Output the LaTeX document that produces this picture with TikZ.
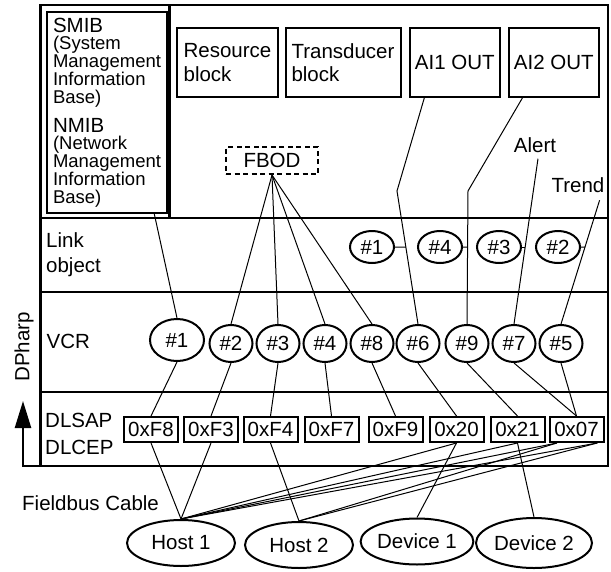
\documentclass[tikz,border=0pt]{standalone}
\usepackage{fontspec}
\setmainfont{Liberation Sans}
\usetikzlibrary{arrows.meta, calc, intersections, shapes.geometric}
\newcommand{\lblfont}{\fontsize{20.5}{23.5}\selectfont}
\newcommand{\notefont}{\fontsize{18.5}{18}\selectfont}
\tikzset{
  outline/.style={line width=2.4pt},
  block/.style={
    draw, rectangle, line width=2pt, inner sep=0pt,
    minimum height=68.7pt, align=left, font=\lblfont
  },
  vcrnode/.style={
    draw, ellipse, line width=2pt, inner sep=0pt,
    minimum width=43pt, minimum height=37pt, font=\lblfont
  },
  linknode/.style={vcrnode, minimum width=44pt, minimum height=32pt},
  addrbox/.style={
    draw, rectangle, line width=2pt, inner sep=0pt,
    minimum width=54pt, minimum height=25pt, font=\lblfont
  },
  station/.style={
    draw, ellipse, line width=2pt, inner sep=0pt,
    minimum width=108pt, minimum height=46pt, font=\lblfont
  },
  rowtext/.style={inner sep=0pt, align=left, font=\lblfont},
  wire/.style={line width=1pt}
}
\begin{document}
\begin{tikzpicture}[x=1pt, y=-1pt]
\useasboundingbox (0,0) rectangle (611,571);

% frame and layer rows
\draw[outline] (40.5,5) rectangle (608,466);
\draw[outline] (40.5,218) -- (608,218);
\draw[outline] (40.5,292) -- (608,292);
\draw[outline] (40.5,392) -- (608,392);
\draw[outline] (169.5,5) -- (169.5,218);

\coordinate (framecorner) at (40.5,466);
\coordinate (arrowtip) at (23,401);
\draw[outline, -{Triangle[length=27pt, width=16pt]}] (framecorner) -- (23,466) -- (arrowtip);
\node[rotate=90, inner sep=0pt, font=\lblfont] (dpharp) at (24,347) {DPharp};

\node[draw, line width=2pt, inner sep=0pt, minimum width=120pt, minimum height=200.5pt,
      align=left, font=\notefont] (smib) at (107,112.3)
  {{\lblfont SMIB}\\[-1pt] (System\\ Management\\ Information\\ Base)\\[11pt]
   {\lblfont NMIB}\\[-1pt] (Network\\ Management\\ Information\\ Base)};

\node[block, minimum width=101pt] (resource) at (227.5,62.7) {Resource\\block};
\node[block, minimum width=115pt] (transducer) at (343,62.7) {Transducer\\block};
\node[block, minimum width=90.5pt] (ai1) at (454.8,62.7) {AI1 OUT};
\node[block, minimum width=90.5pt] (ai2) at (553.8,62.7) {AI2 OUT};
\node[rowtext, draw, line width=2pt, dash pattern=on 5pt off 3.5pt,
      minimum width=92pt, minimum height=27pt] (fbod) at (272,160.5) {FBOD};
\node[rowtext] (alert) at (535,145) {Alert};
\node[rowtext] (trend) at (578,185.5) {Trend};

% row labels
\node[rowtext, anchor=west] (linkobj) at (46,255) {Link\\[1.5pt]object};
\node[rowtext, anchor=west] (vcrlabel) at (46.5,341) {VCR};
\node[rowtext, anchor=west] (dllabel) at (45,434) {DLSAP\\[3.5pt]DLCEP};
\node[rowtext, anchor=west] (cable) at (22,503) {Fieldbus Cable};

% link objects
\node[linknode] (lk1) at (372,247) {\#1};
\node[linknode] (lk4) at (440,247) {\#4};
\node[linknode] (lk3) at (499,247) {\#3};
\node[linknode] (lk2) at (558,247) {\#2};

% VCRs
\node[vcrnode, minimum width=54pt, minimum height=42pt] (vcr1) at (177,340) {\#1};
\node[vcrnode] (vcr2) at (231,343.5) {\#2};
\node[vcrnode] (vcr3) at (278,343.5) {\#3};
\node[vcrnode] (vcr4) at (325,343.5) {\#4};
\node[vcrnode] (vcr8) at (372,343.5) {\#8};
\node[vcrnode] (vcr6) at (418,343.5) {\#6};
\node[vcrnode] (vcr9) at (467,343.5) {\#9};
\node[vcrnode] (vcr7) at (514,343.5) {\#7};
\node[vcrnode] (vcr5) at (561,343.5) {\#5};

% DLSAP / DLCEP addresses
\node[addrbox] (dlf8) at (151,429.5) {0xF8};
\node[addrbox] (dlf3) at (211,429.5) {0xF3};
\node[addrbox] (dlf4) at (270.5,429.5) {0xF4};
\node[addrbox] (dlf7) at (331.5,429.5) {0xF7};
\node[addrbox] (dlf9) at (395.5,429.5) {0xF9};
\node[addrbox] (dl20) at (456.5,429.5) {0x20};
\node[addrbox] (dl21) at (517.5,429.5) {0x21};
\node[addrbox] (dl07) at (576.5,429.5) {0x07};

% stations on the cable
\node[station] (host1) at (181,543) {Host 1};
\node[station] (host2) at (299,545) {Host 2};
\node[station] (dev1) at (417,541.5) {Device 1};
\node[station, minimum width=116pt, minimum height=50pt] (dev2) at (534,543) {Device 2};

% blocks to VCRs
\coordinate (ai1bend) at (397,191);
\coordinate (ai2bend) at (468,191);
\draw[wire] (smib.-65) -- (vcr1.north);
\draw[wire] (fbod.south) -- (vcr2.north);
\draw[wire] (fbod.south) -- (vcr3.north);
\draw[wire] (fbod.south) -- (vcr4.north);
\draw[wire] (fbod.south) -- (vcr8.north);
\draw[wire, name path=ai1line] ($(ai1.south west)!0.17!(ai1.south east)$) -- (ai1bend) -- (vcr6.north);
\draw[wire, name path=ai2line] ($(ai2.south west)!0.16!(ai2.south east)$) -- (ai2bend) -- (vcr9.north);
\draw[wire, name path=alertline] ($(alert.south)+(3,6)$) -- (vcr7.north);
\draw[wire, name path=trendline] ($(trend.south east)+(-5,7)$) -- (vcr5.north);

% link objects hooked on the lines
\path[name path=linkrow] (40,247) -- (608,247);
\path[name intersections={of=ai1line and linkrow, by=lk1hit}];
\path[name intersections={of=ai2line and linkrow, by=lk4hit}];
\path[name intersections={of=alertline and linkrow, by=lk3hit}];
\path[name intersections={of=trendline and linkrow, by=lk2hit}];
\draw[wire] (lk1.east) -- (lk1hit);
\draw[wire] (lk4.east) -- (lk4hit);
\draw[wire] (lk3.east) -- (lk3hit);
\draw[wire] (lk2.east) -- (lk2hit);

% VCRs to addresses
\draw[wire] (vcr1.south) -- (dlf8.north);
\draw[wire] (vcr2.south) -- (dlf3.north);
\draw[wire] (vcr3.south) -- (dlf4.north);
\draw[wire] (vcr4.south) -- (dlf7.north);
\draw[wire] (vcr8.south) -- (dlf9.north);
\draw[wire] (vcr6.south) -- (dl20.north);
\draw[wire] (vcr9.south) -- (dl21.north);
\draw[wire] (vcr7.south) -- (dl07.north);
\draw[wire] (vcr5.south) -- (dl07.north);

% addresses to stations
\draw[wire] (dlf8.south) -- (host1.north);
\draw[wire] (dlf3.south) -- (host1.north);
\draw[wire] (dlf4.south) -- (host2.north);
\draw[wire] (dl20.south) -- (dev1.north);
\draw[wire] (dl21.south) -- (dev2.north);
\draw[wire] (host1.north) -- (dl20.south);
\draw[wire] (host1.north) -- (dl21.south);
\draw[wire] (host1.north) -- ($(dl07.south west)!0.15!(dl07.south east)$);
\draw[wire] (host1.north) -- ($(dl07.south west)!0.87!(dl07.south east)$);
\draw[wire] (host2.north) -- ($(dl07.south west)!0.15!(dl07.south east)$);
\draw[wire] (host2.north) -- ($(dl07.south west)!0.87!(dl07.south east)$);
\end{tikzpicture}
\end{document}
